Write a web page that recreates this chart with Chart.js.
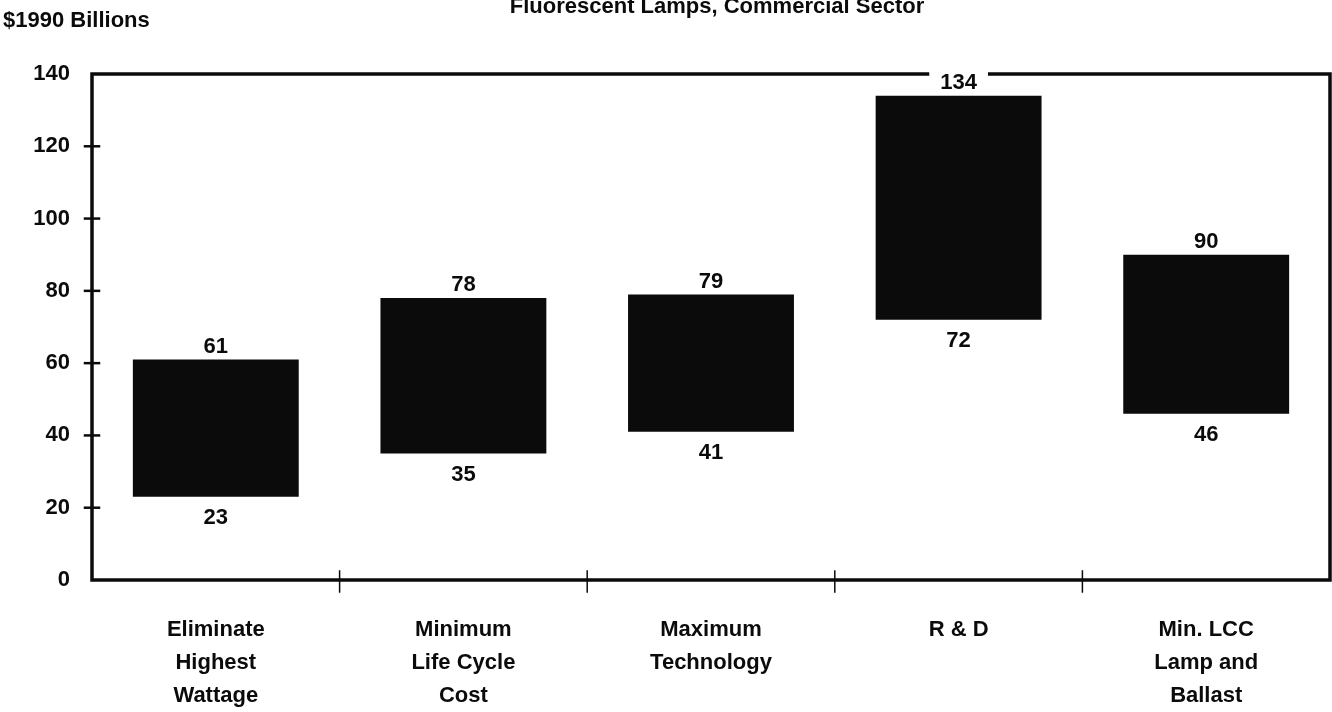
<!DOCTYPE html>
<html><head><meta charset="utf-8">
<script src="https://cdn.jsdelivr.net/npm/chart.js@4.4.1/dist/chart.umd.min.js"></script>
<style>html,body{margin:0;padding:0;background:#fff}#wrap{width:1332px;height:712px}</style>
</head><body><div id="wrap"><canvas id="c" width="1332" height="712"></canvas></div>
<script>
const chartTitle = "Fluorescent Lamps, Commercial Sector";
const yAxisTitle = "$1990 Billions";
const categories = [["Eliminate","Highest","Wattage"],["Minimum","Life Cycle","Cost"],["Maximum","Technology"],["R & D"],["Min. LCC","Lamp and","Ballast"]];
const lowValues = [23, 35, 41, 72, 46];
const highValues = [61, 78, 79, 134, 90];
const yTicks = [0, 20, 40, 60, 80, 100, 120, 140];

const FONT = "'Liberation Sans', Arial, sans-serif";
const INK = "#0b0b0b";

const framePlugin = {
  id: 'frame',
  afterDatasetsDraw(chart) {
    const ctx = chart.ctx, a = chart.chartArea;
    const xs = chart.scales.x, ys = chart.scales.y;
    ctx.save();
    ctx.strokeStyle = INK; ctx.lineWidth = 3.5; ctx.lineCap = 'square';
    ctx.beginPath();
    ctx.moveTo(a.left, a.top); ctx.lineTo(a.right, a.top); ctx.lineTo(a.right, a.bottom);
    ctx.lineTo(a.left, a.bottom); ctx.closePath(); ctx.stroke();
    // y ticks crossing axis
    ctx.lineWidth = 2.5;
    yTicks.forEach(v => {
      if (v === 0 || v === 140) return;
      const y = ys.getPixelForValue(v);
      ctx.beginPath(); ctx.moveTo(a.left - 7, y); ctx.lineTo(a.left + 7, y); ctx.stroke();
    });
    // x category boundary ticks
    ctx.lineWidth = 1.5;
    for (let i = 1; i < categories.length; i++) {
      const x = (xs.getPixelForValue(i - 1) + xs.getPixelForValue(i)) / 2;
      ctx.beginPath(); ctx.moveTo(x, a.bottom - 9); ctx.lineTo(x, a.bottom + 12); ctx.stroke();
    }
    // value labels
    ctx.font = "bold 22px " + FONT;
    ctx.textAlign = 'center'; ctx.textBaseline = 'middle';
    const meta = chart.getDatasetMeta(0);
    meta.data.forEach((bar, i) => {
      const x = bar.x;
      const yTop = ys.getPixelForValue(highValues[i]);
      const yBot = ys.getPixelForValue(lowValues[i]);
      const tTop = String(highValues[i]);
      const w = ctx.measureText(tTop).width;
      ctx.fillStyle = '#fff';
      ctx.fillRect(x - w / 2 - 11, yTop - 25, w + 22, 21);
      ctx.fillStyle = INK;
      ctx.fillText(tTop, x, yTop - 13);
      ctx.fillText(String(lowValues[i]), x, yBot + 21);
    });
    // titles
    ctx.textAlign = 'center'; ctx.textBaseline = 'alphabetic';
    ctx.fillText(chartTitle, 717, 13);
    ctx.textAlign = 'left';
    ctx.fillText(yAxisTitle, 3, 27);
    ctx.restore();
  }
};

new Chart(document.getElementById('c'), {
  type: 'bar',
  data: {
    labels: categories,
    datasets: [{
      data: lowValues.map((lo, i) => [lo, highValues[i]]),
      backgroundColor: INK,
      borderWidth: 0,
      barPercentage: 0.67,
      categoryPercentage: 1.0
    }]
  },
  options: {
    responsive: false,
    animation: false,
    devicePixelRatio: 1,
    layout: { padding: { top: 74, right: 2, left: 0, bottom: 0 } },
    plugins: { legend: { display: false }, tooltip: { enabled: false } },
    scales: {
      x: {
        grid: { display: false }, border: { display: false },
        ticks: { color: INK, font: { family: FONT, size: 22, weight: 'bold', lineHeight: 1.5 }, padding: 25, maxRotation: 0, autoSkip: false },
        afterFit(s) { s.height = 132; }
      },
      y: {
        min: 0, max: 140,
        grid: { display: false }, border: { display: false },
        afterBuildTicks(s) { s.ticks = yTicks.map(v => ({ value: v })); },
        ticks: { color: INK, font: { family: FONT, size: 22, weight: 'bold' }, padding: 14 },
        afterFit(s) { s.width = 92; }
      }
    }
  },
  plugins: [framePlugin]
});
</script></body></html>
